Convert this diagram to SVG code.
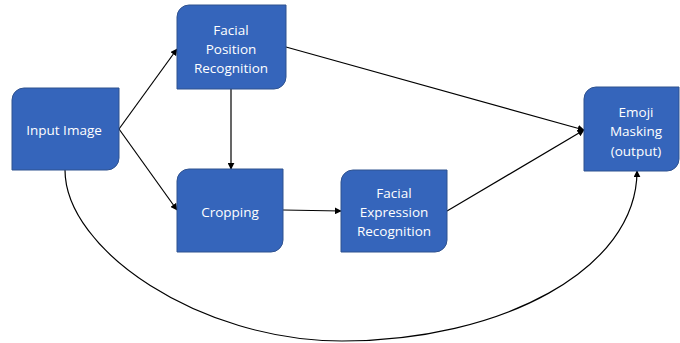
<svg xmlns="http://www.w3.org/2000/svg" width="680" height="343" viewBox="0 0 680 343">
<defs>
<style>
.box{fill:#3565BB;stroke:#2F528F;stroke-width:1}
.t{font-family:"Open Sans","Liberation Sans",sans-serif;font-size:13.5px;fill:#fff;text-anchor:middle}
.c{fill:none;stroke:#000;stroke-width:1.2}
</style>
<marker id="ah" viewBox="0 0 10 10" refX="9" refY="5" markerWidth="7" markerHeight="7" orient="auto" markerUnits="userSpaceOnUse">
<path d="M0,0 L10,5 L0,10 z" fill="#000"/>
</marker>
</defs>
<g id="connectors">
<line class="c" x1="119" y1="129" x2="177" y2="49" marker-end="url(#ah)"/>
<line class="c" x1="119" y1="129" x2="177" y2="210" marker-end="url(#ah)"/>
<line class="c" x1="231" y1="89" x2="231" y2="169" marker-end="url(#ah)"/>
<line class="c" x1="286" y1="47" x2="584" y2="130" marker-end="url(#ah)"/>
<line class="c" x1="283" y1="210" x2="341" y2="211" marker-end="url(#ah)"/>
<line class="c" x1="447" y1="211" x2="584" y2="130" marker-end="url(#ah)"/>
<path class="c" d="M65,170 C65,250 200,341 342,341 C500,341 637,270 637,171" marker-end="url(#ah)"/>
</g>
<g id="input">
<path class="box" d="M24,88 H119 V158 A12,12 0 0 1 107,170 H12 V100 A12,12 0 0 1 24,88 z"/>
<text class="t" x="64" y="134.5">Input Image</text>
</g>
<g id="facialpos">
<path class="box" d="M189,5 H286 V77 A12,12 0 0 1 274,89 H177 V17 A12,12 0 0 1 189,5 z"/>
<text class="t" x="231" y="34.5">Facial</text>
<text class="t" x="231" y="53.5">Position</text>
<text class="t" x="231" y="72.5">Recognition</text>
</g>
<g id="cropping">
<path class="box" d="M189,169 H283 V240 A12,12 0 0 1 271,252 H177 V181 A12,12 0 0 1 189,169 z"/>
<text class="t" x="230" y="216.5">Cropping</text>
</g>
<g id="facialexp">
<path class="box" d="M353,170 H447 V240 A12,12 0 0 1 435,252 H341 V182 A12,12 0 0 1 353,170 z"/>
<text class="t" x="394" y="197.5">Facial</text>
<text class="t" x="394" y="217">Expression</text>
<text class="t" x="394" y="236">Recognition</text>
</g>
<g id="emoji">
<path class="box" d="M596,87 H679 V159 A12,12 0 0 1 667,171 H584 V99 A12,12 0 0 1 596,87 z"/>
<text class="t" x="636" y="116.5">Emoji</text>
<text class="t" x="636" y="136">Masking</text>
<text class="t" x="636" y="155.5">(output)</text>
</g>
</svg>
